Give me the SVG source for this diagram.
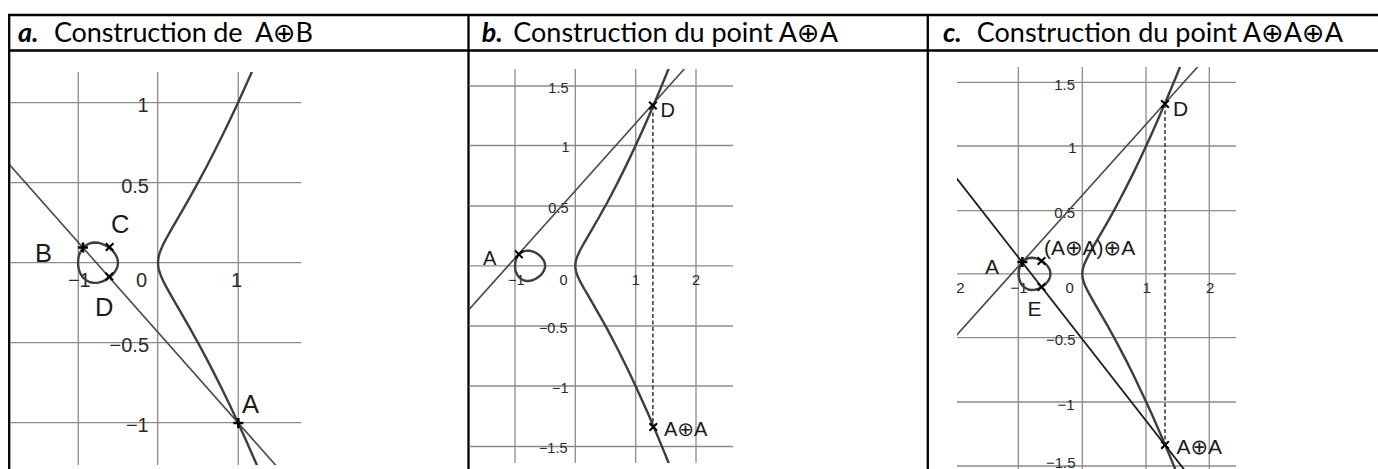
<svg xmlns="http://www.w3.org/2000/svg" width="1378" height="469" viewBox="0 0 1378 469">
<style>
.hd{font-family:Lato,"DejaVu Sans",sans-serif;font-size:27px;fill:#000;white-space:pre}
.hb{font-family:Lato,"DejaVu Sans",sans-serif;font-size:27px;font-weight:bold;font-style:italic;fill:#000}
.tb{stroke:#000;stroke-width:2.3;fill:none}
.grid{stroke:#8c8c8c;stroke-width:1.3;fill:none}
.crv{stroke:#3e3e3e;stroke-width:2.4;fill:none;stroke-linejoin:round;stroke-linecap:round}
.ln{stroke:#4a4a4a;stroke-width:1.6;fill:none}
.lnk{stroke:#1e1e1e;stroke-width:1.8;fill:none}
.dash{stroke:#333;stroke-width:1.5;stroke-dasharray:4 2.5;fill:none}
.mk{stroke:#000;stroke-width:2;fill:none}
.mkp{stroke:#000;stroke-width:2.6;fill:none}
.ax{font-family:"Liberation Sans",Arial,sans-serif;fill:#2a2a2a}
.pt{font-family:"Liberation Sans","DejaVu Sans",sans-serif;fill:#1a1a1a}
</style>
<defs>
<path id="mx" d="M-3.8,-3.8L3.8,3.8M-3.8,3.8L3.8,-3.8"/>
<path id="mp" d="M-5,0H5M0,-5V5"/>
<clipPath id="ca"><rect x="10" y="72" width="291" height="393"/></clipPath>
<clipPath id="cb"><rect x="469.5" y="69" width="264" height="394"/></clipPath>
<clipPath id="cc"><rect x="957" y="67" width="279" height="402"/></clipPath>
</defs>

<g id="table">
<line class="tb" x1="8" y1="15" x2="1378" y2="15"/>
<line class="tb" x1="8" y1="50.5" x2="1378" y2="50.5"/>
<line class="tb" x1="9.2" y1="14" x2="9.2" y2="469"/>
<line class="tb" x1="468.5" y1="14" x2="468.5" y2="469"/>
<line class="tb" x1="927.8" y1="14" x2="927.8" y2="469"/>
<text class="hb" x="18" y="41.5">a.</text>
<text class="hd" x="54" y="41.5" textLength="259" lengthAdjust="spacing">Construction de  A⊕B</text>
<text class="hb" x="481.7" y="41.5">b.</text>
<text class="hd" x="513.3" y="41.5" textLength="324.7" lengthAdjust="spacing">Construction du point A⊕A</text>
<text class="hb" x="943" y="41.5">c.</text>
<text class="hd" x="976.7" y="41.5" textLength="366.3" lengthAdjust="spacing">Construction du point A⊕A⊕A</text>
</g>

<g id="panel-a">
<g class="grid">
<path d="M10,102.7H301M10,182.7H301M10,262.7H301M10,342.7H301M10,422.7H301"/>
<path d="M78.3,72V465M157.7,72V465M238.3,72V465"/>
</g>
<g class="ax" font-size="20">
<text x="148.7" y="112" text-anchor="end">1</text>
<text x="149" y="192.7" text-anchor="end">0.5</text>
<text x="149" y="352" text-anchor="end">−0.5</text>
<text x="148.7" y="432" text-anchor="end">−1</text>
<text x="90.7" y="287" text-anchor="end">−1</text>
<text x="136" y="287">0</text>
<text x="231" y="287">1</text>
</g>
<g clip-path="url(#ca)">
<path class="ln" d="M0,154L300,492.7"/>
<path class="crv" d="M262,476.9L254,458.4L246,440.3L238,422.7L230,405.6L222,389.1L214,373.1L206,357.6L198,342.7L190,328.3L182,314.3L174,300.6L170,293.6L166,286.4L163.6,281.8L161.2,276.5L159.6,272.2L158.8,269.3L158.4,267.4L158,262.7L158.4,258L158.8,256.1L159.6,253.2L161.2,248.9L163.6,243.6L166,239L170,231.8L174,224.8L182,211.1L190,197.1L198,182.7L206,167.8L214,152.3L222,136.3L230,119.8L238,102.7L246,85.1L254,67L262,48.5"/>
<path class="crv" d="M78,262.7L78.4,258.1L78.8,256.3L79.6,253.7L81.2,250.4L83.6,247.2L86,245.2L90,243.2L94,242.5L98,242.7L102,243.8L106,245.6L110,248.4L112.4,250.6L114.8,253.5L116.4,256.2L117.2,258.1L117.6,259.4L118,262.7L117.6,266L117.2,267.3L116.4,269.2L114.8,271.9L112.4,274.8L110,277L106,279.8L102,281.6L98,282.7L94,282.9L90,282.2L86,280.2L83.6,278.2L81.2,275L79.6,271.7L78.8,269.1L78.4,267.3Z"/>
</g>
<use href="#mp" class="mkp" x="238.3" y="423"/>
<use href="#mp" class="mkp" x="83" y="247.5"/>
<use href="#mx" class="mk" x="109.6" y="247"/>
<use href="#mx" class="mk" x="109.2" y="276.5"/>
<g class="pt" font-size="25.5">
<text x="111" y="233">C</text>
<text x="35" y="262">B</text>
<text x="95" y="316">D</text>
<text x="242" y="412.7">A</text>
</g>
</g>

<g id="panel-b">
<g class="grid">
<path d="M469.5,86H733M469.5,145.5H733M469.5,206H733M469.5,265.8H733M469.5,326H733M469.5,386H733M469.5,446.5H733"/>
<path d="M515,69V463M575.3,69V463M635.7,69V463M696,69V463"/>
</g>
<g class="ax" font-size="14.5">
<text x="568.5" y="93" text-anchor="end">1.5</text>
<text x="569.5" y="151.7" text-anchor="end">1</text>
<text x="568.5" y="213" text-anchor="end">0.5</text>
<text x="567.5" y="333" text-anchor="end">−0.5</text>
<text x="568.5" y="393" text-anchor="end">−1</text>
<text x="567.5" y="453" text-anchor="end">−1.5</text>
<text x="524.5" y="285" text-anchor="end">−1</text>
<text x="559.5" y="285">0</text>
<text x="631.8" y="285">1</text>
<text x="692" y="285">2</text>
</g>
<g clip-path="url(#cb)">
<path class="ln" d="M460,319.6L740,6.7"/>
<path class="dash" d="M652.9,106V427"/>
<path class="crv" d="M671.8,470.9L665.8,455.9L659.7,441.1L653.7,426.8L647.7,412.8L641.6,399.2L635.6,386L629.6,373.2L623.5,360.7L617.5,348.7L611.5,337.1L605.5,325.9L599.4,315.1L593.4,304.6L587.4,294.2L584.3,289L581.3,283.6L579.5,280.1L577.7,276.2L576.5,273L575.9,270.8L575.6,269.3L575.3,265.8L575.6,262.3L575.9,260.8L576.5,258.6L577.7,255.4L579.5,251.5L581.3,248L584.3,242.6L587.4,237.4L593.4,227L599.4,216.5L605.5,205.7L611.5,194.5L617.5,182.9L623.5,170.9L629.6,158.4L635.6,145.6L641.6,132.4L647.7,118.8L653.7,104.8L659.7,90.5L665.8,75.8L671.8,60.7"/>
<path class="crv" d="M515,265.8L515.3,262.4L515.6,261L516.2,259.1L517.4,256.6L519.2,254.2L521,252.6L524,251.1L527.1,250.6L530.1,250.8L533.1,251.6L536.1,253L539.1,255.1L540.9,256.7L542.7,258.9L543.9,260.9L544.5,262.3L544.8,263.4L545.15,265.8L544.8,268.3L544.5,269.3L543.9,270.7L542.7,272.7L540.9,274.9L539.1,276.6L536.1,278.6L533.1,280L530.1,280.8L527.1,281L524,280.5L521,279L519.2,277.4L517.4,275L516.2,272.5L515.6,270.6L515.3,269.2Z"/>
</g>
<use href="#mx" class="mk" x="518.9" y="254.3"/>
<use href="#mx" class="mk" x="652.9" y="105.5"/>
<use href="#mx" class="mk" x="653.3" y="427"/>
<g class="pt" font-size="20">
<text x="483" y="265">A</text>
<text x="660.5" y="117">D</text>
<text x="664" y="436">A⊕A</text>
</g>
</g>

<g id="panel-c">
<g class="grid">
<path d="M957,82.3H1236M957,146H1236M957,210.7H1236M957,273.9H1236M957,337.7H1236M957,402H1236M957,466H1236"/>
<path d="M1018.3,67V469M1082.3,67V469M1146,67V469M1209.3,67V469"/>
</g>
<g clip-path="url(#cc)">
<g class="ax" font-size="15">
<text x="1075" y="90" text-anchor="end">1.5</text>
<text x="1076.5" y="153" text-anchor="end">1</text>
<text x="1075" y="218" text-anchor="end">0.5</text>
<text x="1075.5" y="345" text-anchor="end">−0.5</text>
<text x="1074.5" y="410" text-anchor="end">−1</text>
<text x="964.5" y="293" text-anchor="end">−2</text>
<text x="1027.7" y="293" text-anchor="end">−1</text>
<text x="1065.5" y="293">0</text>
<text x="1142.5" y="293">1</text>
<text x="1206" y="293">2</text>
</g>
<path class="ln" d="M950,342.5L1240,19.7"/>
<path class="lnk" d="M950,169.8L1240,541"/>
<path class="dash" d="M1165,104V445"/>
<path class="crv" d="M1177.9,475.7L1171.5,460L1165.1,444.8L1158.7,430L1152.4,415.5L1146,401.5L1139.6,387.9L1133.3,374.7L1126.9,361.9L1120.5,349.6L1114.2,337.7L1107.8,326.2L1101.4,315.1L1095,304.1L1091.9,298.6L1088.7,292.8L1086.8,289.1L1084.8,284.9L1083.6,281.5L1082.9,279.2L1082.6,277.6L1082.3,273.9L1082.6,270.2L1082.9,268.6L1083.6,266.3L1084.8,262.9L1086.8,258.7L1088.7,255L1091.9,249.2L1095,243.7L1101.4,232.7L1107.8,221.6L1114.2,210.1L1120.5,198.2L1126.9,185.9L1133.3,173.1L1139.6,159.9L1146,146.3L1152.4,132.3L1158.7,117.8L1165.1,103L1171.5,87.8L1177.9,72.2L1184.2,56.2"/>
<path class="crv" d="M1018.6,273.9L1018.9,270.2L1019.2,268.8L1019.9,266.8L1021.1,264.1L1023.1,261.6L1025,259.9L1028.2,258.3L1031.3,257.8L1034.5,258L1037.7,258.8L1040.9,260.3L1044.1,262.5L1046,264.3L1047.9,266.6L1049.2,268.7L1049.8,270.2L1050.1,271.3L1050.45,273.9L1050.1,276.5L1049.8,277.6L1049.2,279.1L1047.9,281.3L1046,283.6L1044.1,285.3L1040.9,287.5L1037.7,289L1034.5,289.9L1031.3,290L1028.2,289.5L1025,287.9L1023.1,286.2L1021.1,283.7L1019.9,281.1L1019.2,279L1018.9,277.6Z"/>
</g>
<text class="ax" font-size="15" x="1075.5" y="468" text-anchor="end">−1.5</text>
<use href="#mp" class="mkp" x="1022.4" y="262"/>
<use href="#mx" class="mk" x="1165" y="104"/>
<use href="#mx" class="mk" x="1165" y="445"/>
<use href="#mx" class="mk" x="1041.5" y="287"/>
<use href="#mx" class="mk" x="1041.5" y="261"/>
<g class="pt" font-size="21">
<text x="1173" y="115.7">D</text>
<text x="1176.5" y="454">A⊕A</text>
<text x="1044" y="255">(A⊕A)⊕A</text>
<text x="985" y="274">A</text>
<text x="1027.5" y="316">E</text>
</g>
</g>
</svg>
